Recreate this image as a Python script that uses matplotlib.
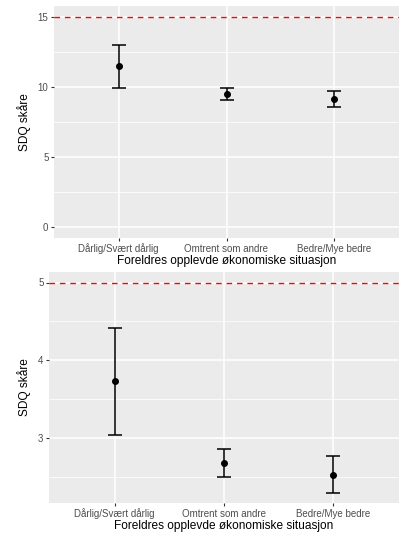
import matplotlib
matplotlib.use("Agg")
import matplotlib.pyplot as plt
import numpy as np

plt.rcParams['font.family'] = ['Liberation Sans', 'DejaVu Sans']

categories = ['Dårlig/Svært dårlig', 'Omtrent som andre', 'Bedre/Mye bedre']

# top panel: total SDQ
top_mean = [11.45, 9.50, 9.15]
top_low = [9.95, 9.05, 8.58]
top_high = [13.0, 9.95, 9.72]
top_cut = 15
top_ticks = [0, 5, 10, 15]

# bottom panel
bot_mean = [3.73, 2.68, 2.53]
bot_low = [3.04, 2.50, 2.30]
bot_high = [4.41, 2.86, 2.77]
bot_cut = 5
bot_ticks = [3, 4, 5]

W, H = 399, 533
fig = plt.figure(figsize=(W / 100, H / 100), dpi=100)


def panel(rect, mean, low, high, cut, ticks, ylim, minor):
    l, t, r, b = rect
    ax = fig.add_axes([l / W, 1 - b / H, (r - l) / W, (b - t) / H])
    ax.set_facecolor('#EBEBEB')
    for s in ax.spines.values():
        s.set_visible(False)
    x = np.arange(1, len(categories) + 1)
    for m in minor:
        ax.axhline(m, color='white', lw=0.55, zorder=0)
    for tk in ticks:
        ax.axhline(tk, color='white', lw=1.1, zorder=0)
    for xi in x:
        ax.axvline(xi, color='white', lw=1.1, zorder=0)
    mean = np.array(mean)
    ax.errorbar(x, mean, yerr=[mean - np.array(low), np.array(high) - mean],
                fmt='o', color='black', ms=4, elinewidth=1.1, capsize=5,
                capthick=1.1, zorder=3)
    ax.axhline(cut, color='#FF0000', ls=(0, (4, 3.5)), lw=1.0, zorder=2)
    ax.set_xlim(0.4, 3.6)
    ax.set_ylim(*ylim)
    ax.set_xticks(x)
    ax.set_xticklabels(categories)
    ax.set_yticks(ticks)
    ax.tick_params(axis='both', colors='#333333', labelcolor='#4D4D4D',
                   labelsize=7, length=2.5, width=0.8, pad=1.5)
    ax.set_xlabel('Foreldres opplevde økonomiske situasjon', fontsize=8.6, labelpad=0.5)
    ax.set_ylabel('SDQ skåre', fontsize=8.6, labelpad=5)
    return ax


panel((54, 6, 399, 238), top_mean, top_low, top_high, top_cut, top_ticks,
      (-0.75, 15.75), [2.5, 7.5, 12.5])
panel((49, 272, 399, 503), bot_mean, bot_low, bot_high, bot_cut, bot_ticks,
      (2.165, 5.135), [2.5, 3.5, 4.5])

fig.savefig('out.png', dpi=100)
